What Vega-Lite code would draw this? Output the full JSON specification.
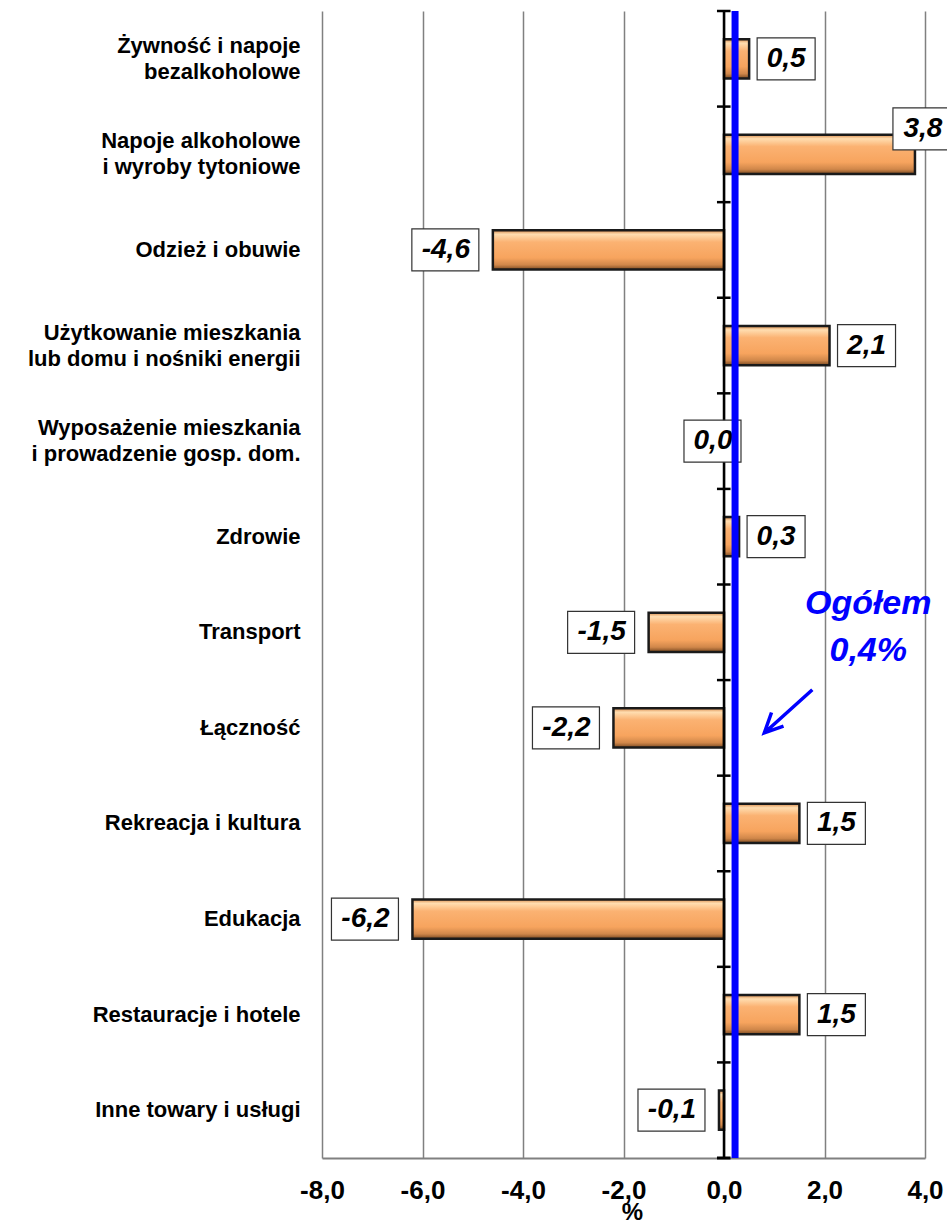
{
  "$schema": "https://vega.github.io/schema/vega-lite/v6.json",
  "width": 603,
  "height": 1147,
  "autosize": {"type": "none"},
  "padding": {"left": 322, "top": 11, "right": 22, "bottom": 66},
  "background": "white",
  "config": {
    "view": {"stroke": null},
    "font": "Liberation Sans",
    "locale": {"number": {"decimal": ",", "thousands": " ", "grouping": [3], "currency": ["", ""], "minus": "-"}}
  },
  "data": {
    "values": [
      {"cat": "Żywność i napoje|bezalkoholowe", "v": 0.5},
      {"cat": "Napoje alkoholowe|i wyroby tytoniowe", "v": 3.8},
      {"cat": "Odzież i obuwie", "v": -4.6},
      {"cat": "Użytkowanie mieszkania|lub domu i nośniki energii", "v": 2.1},
      {"cat": "Wyposażenie mieszkania|i prowadzenie gosp. dom.", "v": 0.0},
      {"cat": "Zdrowie", "v": 0.3},
      {"cat": "Transport", "v": -1.5},
      {"cat": "Łączność", "v": -2.2},
      {"cat": "Rekreacja i kultura", "v": 1.5},
      {"cat": "Edukacja", "v": -6.2},
      {"cat": "Restauracje i hotele", "v": 1.5},
      {"cat": "Inne towary i usługi", "v": -0.1}
    ]
  },
  "layer": [
    {
      "mark": {
        "type": "bar",
        "height": {"band": 0.41},
        "stroke": "#1a1a1a",
        "strokeWidth": 2.5,
        "fill": {
          "gradient": "linear", "x1": 0, "y1": 0, "x2": 0, "y2": 1,
          "stops": [
            {"offset": 0, "color": "#D98C4E"},
            {"offset": 0.1, "color": "#FFDDB0"},
            {"offset": 0.3, "color": "#FBB272"},
            {"offset": 0.7, "color": "#F7A45E"},
            {"offset": 0.88, "color": "#D0874A"},
            {"offset": 1, "color": "#7A4A22"}
          ]
        }
      },
      "encoding": {
        "y": {
          "field": "cat", "type": "nominal", "sort": null,
          "scale": {"paddingInner": 0, "paddingOuter": 0},
          "axis": {
            "title": null, "domain": false, "ticks": false, "grid": false,
            "labelExpr": "split(datum.value, '|')",
            "labelOffset": {"condition": {"test": "indexof(datum.value, '|') >= 0", "value": -13}, "value": 0},
            "labelFont": "Liberation Sans", "labelFontSize": 22, "labelFontWeight": "bold",
            "labelColor": "black", "labelPadding": 22, "labelLimit": 400, "labelLineHeight": 26
          }
        },
        "x": {
          "field": "v", "type": "quantitative",
          "scale": {"domain": [-8, 4], "nice": false},
          "axis": {
            "values": [-8, -6, -4, -2, 0, 2, 4], "format": ".1f", "title": "%",
            "grid": true, "gridColor": "#808080", "gridWidth": 1.5, "gridOpacity": 1,
            "domainColor": "#808080", "domainWidth": 2, "ticks": false, "labelFlush": false,
            "labelFont": "Liberation Sans", "labelFontSize": 26, "labelFontWeight": "bold",
            "labelColor": "black", "labelPadding": 19,
            "titleFont": "Liberation Sans", "titleFontSize": 24, "titleFontWeight": "bold",
            "titleColor": "black", "titlePadding": -3, "titleX": 310
          }
        }
      }
    },
    {
      "data": {"values": [{}]},
      "mark": {"type": "rule", "color": "black", "strokeWidth": 2.5},
      "encoding": {"x": {"datum": 0}}
    },
    {
      "mark": {"type": "rule", "color": "black", "strokeWidth": 2.5},
      "encoding": {
        "y": {"field": "cat", "type": "nominal", "sort": null, "bandPosition": 0},
        "x": {"datum": -0.14},
        "x2": {"datum": 0.13}
      }
    },
    {
      "transform": [{"filter": "datum.cat == 'Inne towary i usługi'"}],
      "mark": {"type": "rule", "color": "black", "strokeWidth": 3},
      "encoding": {
        "y": {"field": "cat", "type": "nominal", "sort": null, "bandPosition": 1},
        "x": {"datum": -0.14},
        "x2": {"datum": 0.13}
      }
    },
    {
      "transform": [{"filter": "datum.v > 0 && datum.v <= 3"}],
      "mark": {"type": "point", "shape": "M0.276,-0.724L2.276,-0.724L2.276,0.724L0.276,0.724Z", "size": 3364, "filled": true, "fill": "white", "stroke": "#333333", "strokeWidth": 1.2, "opacity": 1},
      "encoding": {
        "y": {"field": "cat", "type": "nominal", "sort": null},
        "x": {"field": "v", "type": "quantitative"}
      }
    },
    {
      "transform": [{"filter": "datum.v > 3"}],
      "mark": {"type": "point", "shape": "M-0.759,-1.603L1.241,-1.603L1.241,-0.155L-0.759,-0.155Z", "size": 3364, "filled": true, "fill": "white", "stroke": "#333333", "strokeWidth": 1.2, "opacity": 1},
      "encoding": {
        "y": {"field": "cat", "type": "nominal", "sort": null},
        "x": {"field": "v", "type": "quantitative"}
      }
    },
    {
      "transform": [{"filter": "datum.v == 0"}],
      "mark": {"type": "point", "shape": "M-1.38,-0.724L0.586,-0.724L0.586,0.724L-1.38,0.724Z", "size": 3364, "filled": true, "fill": "white", "stroke": "#333333", "strokeWidth": 1.2, "opacity": 1},
      "encoding": {
        "y": {"field": "cat", "type": "nominal", "sort": null},
        "x": {"field": "v", "type": "quantitative"}
      }
    },
    {
      "transform": [{"filter": "datum.v < 0"}],
      "mark": {"type": "point", "shape": "M-2.793,-0.724L-0.483,-0.724L-0.483,0.724L-2.793,0.724Z", "size": 3364, "filled": true, "fill": "white", "stroke": "#333333", "strokeWidth": 1.2, "opacity": 1},
      "encoding": {
        "y": {"field": "cat", "type": "nominal", "sort": null},
        "x": {"field": "v", "type": "quantitative"}
      }
    },
    {
      "transform": [{"filter": "datum.v > 0 && datum.v <= 3"}],
      "mark": {"type": "text", "font": "Liberation Sans", "fontSize": 28, "fontWeight": "bold", "fontStyle": "italic", "align": "center", "baseline": "middle", "dx": 37, "color": "black"},
      "encoding": {
        "y": {"field": "cat", "type": "nominal", "sort": null},
        "x": {"field": "v", "type": "quantitative"},
        "text": {"field": "v", "type": "quantitative", "format": ".1f"}
      }
    },
    {
      "transform": [{"filter": "datum.v > 3"}],
      "mark": {"type": "text", "font": "Liberation Sans", "fontSize": 28, "fontWeight": "bold", "fontStyle": "italic", "align": "center", "baseline": "middle", "dx": 8, "dy": -25, "color": "black"},
      "encoding": {
        "y": {"field": "cat", "type": "nominal", "sort": null},
        "x": {"field": "v", "type": "quantitative"},
        "text": {"field": "v", "type": "quantitative", "format": ".1f"}
      }
    },
    {
      "transform": [{"filter": "datum.v == 0"}],
      "mark": {"type": "text", "font": "Liberation Sans", "fontSize": 28, "fontWeight": "bold", "fontStyle": "italic", "align": "center", "baseline": "middle", "dx": -11, "color": "black"},
      "encoding": {
        "y": {"field": "cat", "type": "nominal", "sort": null},
        "x": {"field": "v", "type": "quantitative"},
        "text": {"field": "v", "type": "quantitative", "format": ".1f"}
      }
    },
    {
      "transform": [{"filter": "datum.v < 0"}],
      "mark": {"type": "text", "font": "Liberation Sans", "fontSize": 28, "fontWeight": "bold", "fontStyle": "italic", "align": "center", "baseline": "middle", "dx": -47, "color": "black"},
      "encoding": {
        "y": {"field": "cat", "type": "nominal", "sort": null},
        "x": {"field": "v", "type": "quantitative"},
        "text": {"field": "v", "type": "quantitative", "format": ".1f"}
      }
    },
    {
      "data": {"values": [{}]},
      "mark": {"type": "rule", "color": "#0000FF", "strokeWidth": 7},
      "encoding": {"x": {"datum": 0.22}}
    },
    {
      "data": {"values": [{}]},
      "mark": {"type": "text", "text": ["Ogółem", "0,4%"], "font": "Liberation Sans", "fontSize": 34, "fontWeight": "bold", "fontStyle": "italic", "color": "#0000FF", "align": "center", "baseline": "middle", "lineHeight": 47},
      "encoding": {
        "x": {"datum": 2.87},
        "y": {"datum": "Transport", "bandPosition": 0.2}
      }
    },
    {
      "data": {"values": [{}]},
      "mark": {"type": "point", "shape": "M1,-0.9L-1,0.9M-0.2,0.62L-1,0.9L-0.7,0.05", "size": 2304, "filled": false, "stroke": "#0000FF", "strokeWidth": 3.5, "opacity": 1},
      "encoding": {
        "x": {"datum": 1.28},
        "y": {"datum": "Łączność", "bandPosition": 0.327}
      }
    }
  ]
}
